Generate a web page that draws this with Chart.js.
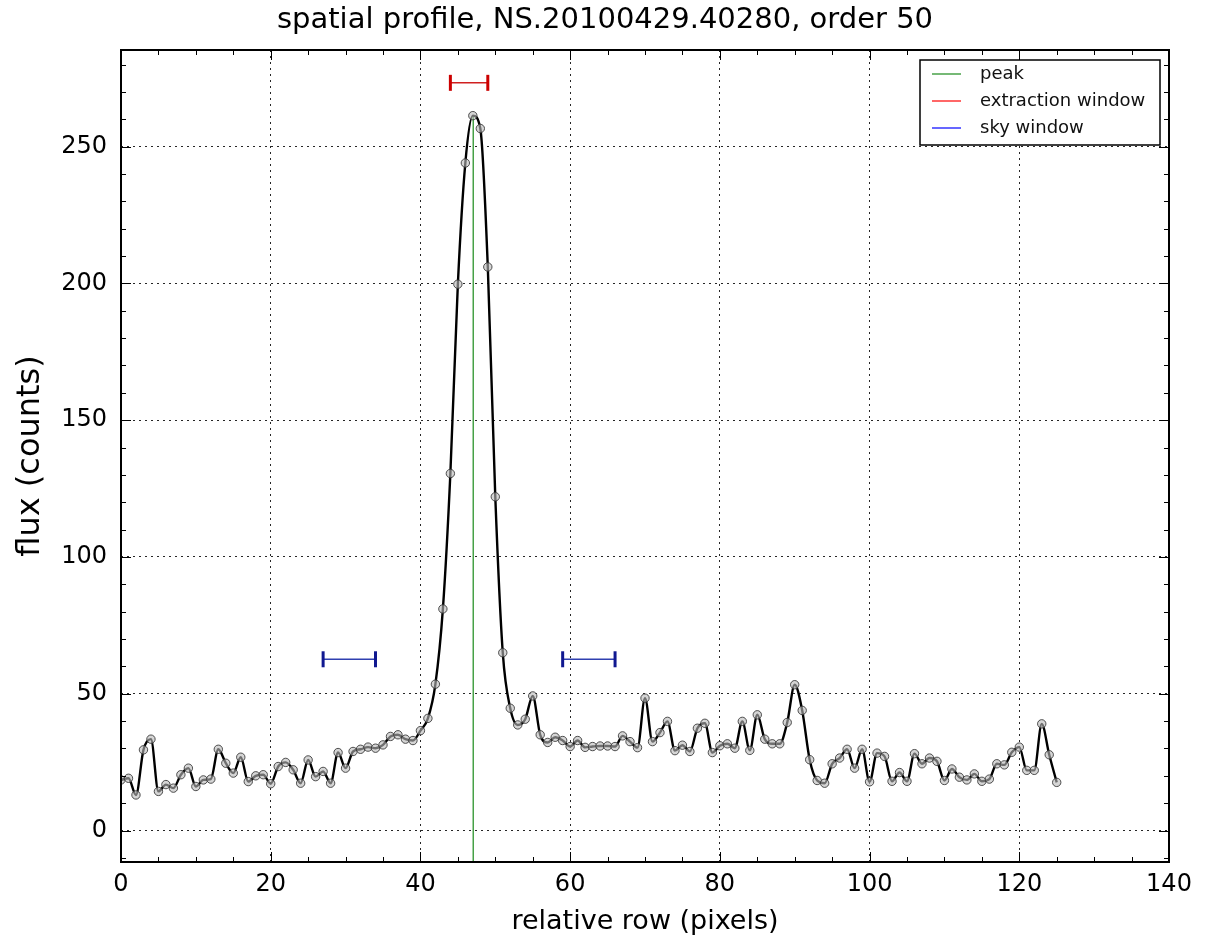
<!DOCTYPE html>
<html>
<head>
<meta charset="utf-8">
<script src="https://cdn.jsdelivr.net/npm/chart.js@4.4.1/dist/chart.umd.min.js"></script>
<style>
  html, body { margin: 0; padding: 0; background: #fff; }
  #wrap { width: 1210px; height: 949px; }
</style>
</head>
<body>
<div id="wrap"><canvas id="c" width="1210" height="949"></canvas></div>
<script>
// spatial profile values, one per relative row
const flux = [
  18.5, 19.1, 13.0, 29.5, 33.4, 14.3, 16.8, 15.5, 20.4, 22.8,
  16.1, 18.5, 18.8, 29.7, 24.6, 21.0, 26.8, 17.9, 20.0, 20.4,
  17.1, 23.4, 24.9, 22.2, 17.3, 25.8, 19.7, 21.6, 17.3, 28.5,
  22.8, 28.9, 29.7, 30.5, 30.1, 31.3, 34.4, 35.0, 33.4, 32.9,
  36.5, 41.0, 53.5, 81.0, 130.5, 199.7, 244.0, 261.3, 256.6, 206.0,
  122.0, 65.0, 44.7, 38.6, 40.7, 49.2, 35.0, 32.2, 34.1, 32.9,
  30.7, 32.9, 30.4, 30.7, 30.9, 30.9, 30.7, 34.6, 32.5, 30.3,
  48.4, 32.5, 35.8, 39.9, 29.2, 31.2, 28.9, 37.4, 39.2, 28.5,
  31.0, 31.7, 30.1, 39.9, 29.3, 42.3, 33.4, 31.7, 31.7, 39.5,
  53.3, 43.9, 25.9, 18.3, 17.3, 24.4, 26.5, 29.7, 22.8, 29.7,
  17.8, 28.3, 27.1, 18.0, 21.2, 18.0, 28.1, 24.4, 26.5, 25.3,
  18.3, 22.5, 19.5, 18.5, 20.7, 18.0, 18.8, 24.4, 24.0, 28.6,
  30.5, 22.0, 22.0, 39.0, 27.7, 17.6
];
const rows = flux.map((_, i) => i);

const peakRow = 47.05;
const peakFlux = 261.3;
const extractionWindow = [44, 49];
const extractionLevel = 273.3;
const skyWindows = [[27, 34], [59, 66]];
const skyLevel = 62.6;

const xTicks = [0, 20, 40, 60, 80, 100, 120, 140];
const yTicks = [0, 50, 100, 150, 200, 250];
const xRange = [0, 140];
const yRange = [-11.5, 285.3];
const xMinorStep = 5;
const yMinorStep = 10;

const titleText = 'spatial profile, NS.20100429.40280, order 50';
const legendItems = [
  { label: 'peak', color: '#1a8a1a' },
  { label: 'extraction window', color: '#ff0000' },
  { label: 'sky window', color: '#0000ff' }
];

const FONT = 'DejaVu Sans';

function windowSet(span, level, lineColor, capColor) {
  return {
    data: [{ x: span[0], y: level }, { x: span[1], y: level }],
    borderColor: lineColor,
    borderWidth: 1.5,
    pointStyle: 'line',
    pointRotation: 90,
    pointRadius: 8,
    pointBorderWidth: 3,
    pointBorderColor: capColor,
    pointBackgroundColor: capColor,
    tension: 0
  };
}

const datasets = [
  {
    data: rows.map((r, i) => ({ x: r, y: flux[i] })),
    borderColor: '#000',
    borderWidth: 2.4,
    pointRadius: 4.2,
    pointBackgroundColor: 'rgba(185,185,185,0.6)',
    pointBorderColor: 'rgba(50,50,50,0.85)',
    pointBorderWidth: 1,
    cubicInterpolationMode: 'monotone'
  },
  {
    data: [{ x: peakRow, y: yRange[0] - 5 }, { x: peakRow, y: peakFlux }],
    borderColor: '#1a8a1a',
    borderWidth: 1.2,
    pointRadius: 0
  },
  windowSet(extractionWindow, extractionLevel, '#d02020', '#cc0000'),
  windowSet(skyWindows[0], skyLevel, '#3040b0', '#101890'),
  windowSet(skyWindows[1], skyLevel, '#3040b0', '#101890')
];

const axisMarks = {
  id: 'axisMarks',
  afterDraw(chart) {
    const { ctx, chartArea: a, scales: { x, y } } = chart;
    ctx.save();
    ctx.strokeStyle = '#000';
    ctx.lineWidth = 1;
    ctx.beginPath();
    for (let v = xRange[0]; v <= xRange[1]; v += xMinorStep) {
      const len = v % 20 === 0 ? 10 : 5;
      const px = Math.round(x.getPixelForValue(v)) + 0.5;
      ctx.moveTo(px, a.bottom); ctx.lineTo(px, a.bottom - len);
      ctx.moveTo(px, a.top); ctx.lineTo(px, a.top + len);
    }
    for (let v = -10; v <= yRange[1]; v += yMinorStep) {
      const len = v % 50 === 0 ? 10 : 5;
      const py = Math.round(y.getPixelForValue(v)) + 0.5;
      ctx.moveTo(a.left, py); ctx.lineTo(a.left + len, py);
      ctx.moveTo(a.right, py); ctx.lineTo(a.right - len, py);
    }
    ctx.stroke();

    ctx.lineWidth = 2;
    ctx.strokeRect(a.left, a.top, a.right - a.left, a.bottom - a.top);

    // title, centred on the figure rather than the plot box
    ctx.fillStyle = '#000';
    ctx.font = '29px "' + FONT + '"';
    ctx.textAlign = 'center';
    ctx.textBaseline = 'middle';
    ctx.fillText(titleText, chart.width / 2, 20);

    // legend box, upper right
    const bw = 240, bh = 85;
    const bx = a.right - 9 - bw, by = a.top + 10;
    ctx.fillStyle = '#fff';
    ctx.fillRect(bx, by, bw, bh);
    ctx.lineWidth = 1.5;
    ctx.strokeStyle = '#000';
    ctx.strokeRect(bx, by, bw, bh);
    ctx.font = '18px "' + FONT + '"';
    ctx.textAlign = 'left';
    legendItems.forEach((it, i) => {
      const ly = by + 14 + i * 27;
      ctx.strokeStyle = it.color;
      ctx.lineWidth = 1.2;
      ctx.beginPath();
      ctx.moveTo(bx + 12, ly); ctx.lineTo(bx + 41, ly);
      ctx.stroke();
      ctx.fillStyle = '#111';
      ctx.fillText(it.label, bx + 60, ly);
    });
    ctx.restore();
  }
};

new Chart(document.getElementById('c'), {
  type: 'line',
  data: { datasets },
  plugins: [axisMarks],
  options: {
    responsive: false,
    animation: false,
    devicePixelRatio: 1,
    layout: { padding: { left: 0, right: 41, top: 50, bottom: 0 } },
    plugins: {
      legend: { display: false },
      tooltip: { enabled: false },
      title: { display: false }
    },
    scales: {
      x: {
        type: 'linear',
        min: xRange[0],
        max: xRange[1],
        afterBuildTicks: s => { s.ticks = xTicks.map(v => ({ value: v })); },
        afterFit: s => { s.height = 87; },
        grid: { color: 'rgba(0,0,0,0.85)', lineWidth: 1, drawTicks: false },
        border: { display: false, dash: [2, 4] },
        ticks: {
          color: '#000', padding: 8, maxRotation: 0, autoSkip: false,
          font: { family: FONT, size: 24 }
        },
        title: {
          display: true,
          text: 'relative row (pixels)',
          color: '#000',
          font: { family: FONT, size: 27 },
          padding: { top: 0, bottom: 11 }
        }
      },
      y: {
        type: 'linear',
        min: yRange[0],
        max: yRange[1],
        afterBuildTicks: s => { s.ticks = yTicks.map(v => ({ value: v })); },
        afterFit: s => { s.width = 121; },
        grid: { color: 'rgba(0,0,0,0.85)', lineWidth: 1, drawTicks: false },
        border: { display: false, dash: [2, 4] },
        ticks: {
          color: '#000', padding: 14,
          font: { family: FONT, size: 24 }
        },
        title: {
          display: true,
          text: 'flux (counts)',
          color: '#000',
          font: { family: FONT, size: 32 },
          padding: { top: 11, bottom: 0 }
        }
      }
    }
  }
});
</script>
</body>
</html>
